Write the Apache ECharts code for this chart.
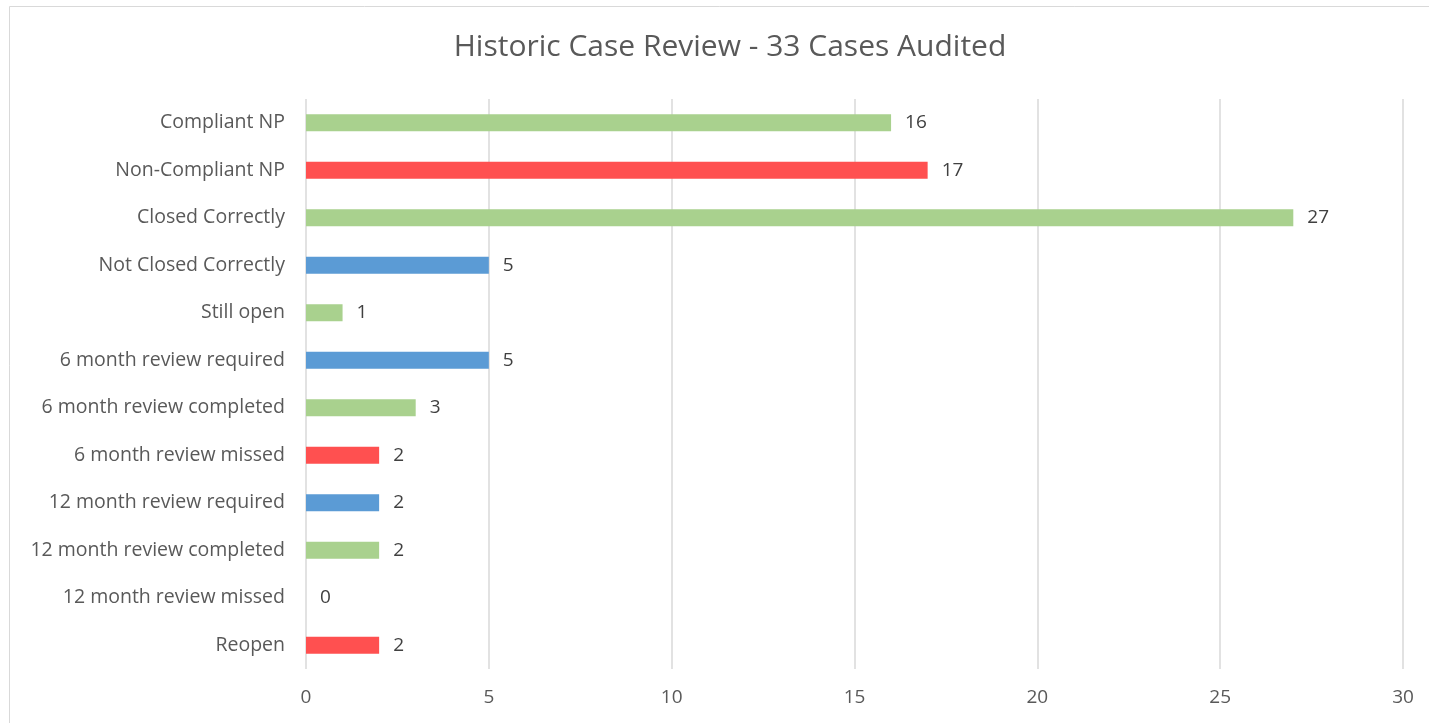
<!DOCTYPE html>
<html>
<head>
<meta charset="utf-8">
<script src="https://cdn.jsdelivr.net/npm/echarts@6/dist/echarts.min.js"></script>
<style>
html, body { margin: 0; padding: 0; background: #fff; }
#chartDiv { width: 1429px; height: 723px; }
</style>
</head>
<body>
<div id="chartDiv"></div>
<script>
// 数据
var categories = [
    'Compliant NP', 'Non-Compliant NP', 'Closed Correctly', 'Not Closed Correctly',
    'Still open', '6 month review required', '6 month review completed', '6 month review missed',
    '12 month review required', '12 month review completed', '12 month review missed', 'Reopen'
];
var values = [16, 17, 27, 5, 1, 5, 3, 2, 2, 2, 0, 2];
var statuses = ['good', 'bad', 'good', 'info', 'good', 'info', 'good', 'bad', 'info', 'good', 'good', 'bad'];
var xTicks = [0, 5, 10, 15, 20, 25, 30];

var statusColor = { good: '#A9D18E', bad: '#FF5050', info: '#5B9BD5' };
var font = '"Open Sans", Lato, sans-serif';

var myChart = echarts.init(document.getElementById('chartDiv'));

var option = {
    backgroundColor: '#fff',
    animation: false,
    title: {
        text: 'Historic Case Review - 33 Cases Audited',
        left: 725,
        textAlign: 'center',
        top: 27,
        textStyle: { color: '#595959', fontSize: 30, fontWeight: 'normal', fontFamily: font }
    },
    graphic: [{
        type: 'rect',
        shape: { x: 9.5, y: 6.5, width: 1500, height: 800 },
        style: { fill: 'none', stroke: '#D9D9D9', lineWidth: 1 },
        silent: true
    }],
    grid: { left: 306, right: 26, top: 99, bottom: 54, containLabel: false },
    xAxis: {
        type: 'value',
        min: xTicks[0],
        max: xTicks[xTicks.length - 1],
        interval: xTicks[1] - xTicks[0],
        axisLine: { show: false },
        axisTick: { show: false },
        splitLine: { show: true, lineStyle: { color: '#D9D9D9', width: 1.5 } },
        axisLabel: { color: '#595959', fontSize: 19, fontFamily: font, margin: 19 }
    },
    yAxis: {
        type: 'category',
        data: categories,
        inverse: true,
        axisLine: { show: false },
        axisTick: { show: false },
        axisLabel: { color: '#595959', fontSize: 19.5, fontFamily: font, margin: 21 }
    },
    series: [{
        type: 'bar',
        barWidth: 17,
        data: values.map(function (v, i) {
            return { value: v, itemStyle: { color: statusColor[statuses[i]] } };
        }),
        label: {
            show: true,
            position: 'right',
            distance: 14,
            color: '#404040',
            fontSize: 19,
            fontFamily: font
        }
    }]
};
myChart.setOption(option);
window.onresize = myChart.resize;
</script>
</body>
</html>
